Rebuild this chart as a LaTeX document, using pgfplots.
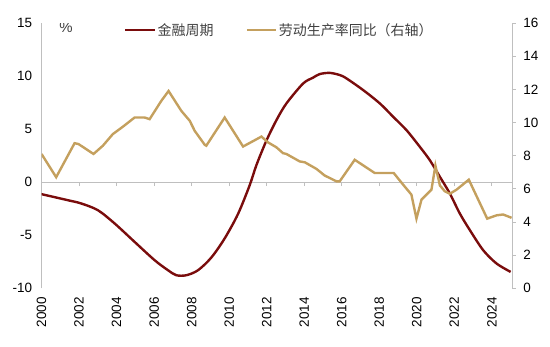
\documentclass[border=0pt]{standalone}
\usepackage{pgfplots}
\pgfplotsset{compat=1.18}
\usepackage{fontspec}
\setmainfont{Liberation Sans}
\newfontfamily\cjk{Noto Sans CJK SC}
\definecolor{fin}{RGB}{122,12,12}
\definecolor{lab}{RGB}{196,160,94}
\definecolor{axg}{RGB}{191,191,191}
\definecolor{txt}{RGB}{64,64,64}

\pgfplotstableread{
x y
2000.00 -1.13
2001.40 -1.70
2002.10 -2.00
2003.00 -2.64
2003.90 -3.90
2004.96 -5.63
2006.03 -7.36
2006.74 -8.30
2007.18 -8.77
2007.72 -8.77
2008.34 -8.30
2009.05 -7.10
2009.76 -5.30
2010.47 -3.00
2011.09 -0.30
2011.45 1.60
2011.98 3.90
2012.52 5.85
2013.05 7.42
2013.94 9.30
2014.47 9.85
2014.83 10.19
2015.36 10.30
2015.89 10.10
2016.25 9.78
2017.14 8.68
2018.03 7.42
2018.74 6.16
2019.45 4.90
2020.16 3.33
2020.69 2.08
2021.23 0.50
2021.76 -1.07
2022.29 -2.95
2022.83 -4.53
2023.54 -6.42
2024.25 -7.67
2025.00 -8.46
}\fincycle

\pgfplotstableread{
x y
2000.00 8.10
2000.78 6.70
2001.76 8.75
2001.97 8.70
2002.77 8.10
2003.27 8.60
2003.80 9.30
2004.34 9.75
2004.96 10.30
2005.49 10.30
2005.76 10.20
2006.38 11.30
2006.77 11.90
2007.45 10.70
2007.90 10.10
2008.16 9.50
2008.70 8.65
2008.78 8.60
2009.76 10.30
2010.74 8.55
2011.72 9.15
2012.07 8.80
2012.52 8.50
2012.87 8.15
2013.05 8.10
2013.76 7.65
2014.03 7.60
2014.65 7.20
2015.09 6.80
2015.72 6.45
2015.89 6.45
2016.69 7.75
2017.76 6.95
2018.77 6.95
2019.27 6.25
2019.71 5.65
2019.98 4.20
2020.25 5.35
2020.78 5.95
2020.99 7.40
2021.23 6.20
2021.49 5.85
2021.76 5.70
2022.12 5.95
2022.77 6.55
2023.75 4.20
2024.25 4.40
2024.60 4.45
2025.05 4.25
}\labprod

\begin{document}
\begin{tikzpicture}[font=\fontsize{13.5}{16}\selectfont]
\pgfplotsset{every axis/.append style={
  scale only axis, width=470bp, height=265bp,
  xmin=2000, xmax=2025.07,
  /pgf/number format/assume math mode=true,
  tick label style={font=\fontsize{13.5}{16}\selectfont, text=black},
}}
\begin{axis}[name=ax,
  ymin=-10, ymax=15, ytick={-10,-5,...,15},
  axis y line*=left,
  axis x line=middle,
  x axis line style={-, axg, line width=0.8pt},
  y axis line style={-, axg, line width=0.8pt},
  hide obscured x ticks=false, hide obscured y ticks=false,
  xtick={2000,2002,...,2024}, xticklabels={},
  x tick style={axg, line width=0.8pt}, xtick align=outside,
  major tick length=4bp,
  ytick style={draw=none},
  yticklabel style={xshift=-6bp},
]
\addplot[fin, line width=2.4pt, smooth, tension=0.5] table[x=x,y=y] {\fincycle};
\end{axis}
\begin{axis}[
  ymin=0, ymax=16, ytick={0,2,...,16},
  axis y line*=right,
  axis x line*=bottom,
  x axis line style={draw=none},
  y axis line style={-, axg, line width=0.8pt},
  y tick style={axg, line width=0.8pt}, ytick align=outside,
  major tick length=4bp,
  yticklabel style={xshift=4bp},
  xtick={2000,2002,...,2024},
  xticklabels={2000,2002,2004,2006,2008,2010,2012,2014,2016,2018,2020,2022,2024},
  xticklabel={\rotatebox{90}{\tick}},
  xticklabel={\rotatebox{90}{\pgfmathprintnumber[1000 sep={},fixed,precision=0]{\tick}}},
  x tick style={draw=none},
  x tick label style={anchor=north, inner sep=0pt, yshift=-9bp},
  legend style={at={(0.1755,0.974)}, anchor=west, draw=none, fill=none,
    inner sep=0pt, legend columns=2, font=\cjk\fontsize{14}{16}\selectfont, text=txt,
    /tikz/every even column/.append style={column sep=30bp}},
  legend image code/.code={\draw[#1] (0bp,0bp) -- (29bp,0bp);},
]
\addlegendimage{fin, line width=2.4pt}
\addlegendentry{金融周期}
\addplot[lab, line width=2.4pt] table[x=x,y=y] {\labprod};
\addlegendentry{劳动生产率同比（右轴）}
\node[font=\fontsize{15}{16}\selectfont, text=txt] at (rel axis cs:0.052,0.985) {\%};
\end{axis}
\pgfresetboundingbox
\path[use as bounding box] ([xshift=-41.5bp,yshift=-58bp]ax.south west) rectangle ([xshift=38bp,yshift=23bp]ax.north east);
\end{tikzpicture}
\end{document}
